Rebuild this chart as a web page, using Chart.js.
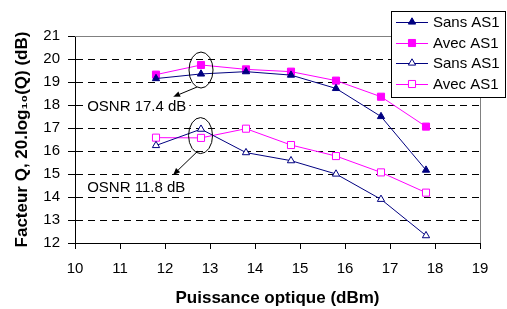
<!DOCTYPE html>
<html>
<head>
<meta charset="utf-8">
<script src="https://cdn.jsdelivr.net/npm/chart.js@4/dist/chart.umd.min.js"></script>
<style>
html,body{margin:0;padding:0;background:#fff;}
canvas{display:block;}
</style>
</head>
<body>
<canvas id="c" width="507" height="309"></canvas>
<script>
// ---- data ----
const puissance = [11.8, 12.8, 13.8, 14.8, 15.8, 16.8, 17.8];
const sansAS1_hautOSNR = [19.15, 19.35, 19.45, 19.30, 18.72, 17.50, 15.17];
const avecAS1_hautOSNR = [19.32, 19.74, 19.55, 19.45, 19.06, 18.36, 17.06];
const sansAS1_basOSNR = [16.24, 16.95, 15.93, 15.58, 15.00, 13.90, 12.32];
const avecAS1_basOSNR = [16.58, 16.57, 16.97, 16.26, 15.78, 15.07, 14.19];
const seriesNames = ['Sans AS1', 'Avec AS1', 'Sans AS1', 'Avec AS1'];
const xTickValues = [10, 11, 12, 13, 14, 15, 16, 17, 18, 19];
const yTickValues = [12, 13, 14, 15, 16, 17, 18, 19, 20, 21];
const xTitle = 'Puissance optique (dBm)';
const yTitle = 'Facteur Q, 20.log\u2081\u2080(Q) (dB)';
// annotations (data coordinates)
const osnrLabels = ['OSNR 17.4 dB', 'OSNR 11.8 dB'];
const ellipseCenters = [[12.8, 19.52], [12.79, 16.67]];
const arrowStarts = [[12.71, 18.78], [12.73, 16.0]];
const arrowEnds = [[12.18, 18.35], [12.18, 14.96]];
const labelPos = [[10.27, 17.97], [10.27, 14.43]];

const NAVY = '#000080', MAG = '#FF00FF';
const FONT = '"Liberation Sans", Arial, sans-serif';

function pts(arr){ return arr.map((v,i)=>({x: puissance[i], y: v})); }

const datasets = [
  {label: seriesNames[0], data: pts(sansAS1_hautOSNR), borderColor: NAVY, backgroundColor: NAVY, pointStyle: 'triangle', pointRadius: 4.2, pointBorderColor: NAVY, pointBackgroundColor: NAVY},
  {label: seriesNames[1], data: pts(avecAS1_hautOSNR), borderColor: MAG, backgroundColor: MAG, pointStyle: 'rect', pointRadius: 5, pointBorderColor: MAG, pointBackgroundColor: MAG},
  {label: seriesNames[2], data: pts(sansAS1_basOSNR), borderColor: NAVY, backgroundColor: '#fff', pointStyle: 'triangle', pointRadius: 4.2, pointBorderColor: NAVY, pointBackgroundColor: '#fff'},
  {label: seriesNames[3], data: pts(avecAS1_basOSNR), borderColor: MAG, backgroundColor: '#fff', pointStyle: 'rect', pointRadius: 5, pointBorderColor: MAG, pointBackgroundColor: '#fff'}
];
datasets.forEach(d => { d.borderWidth = 1; d.pointBorderWidth = 1; d.tension = 0; d.fill = false; d.pointHoverRadius = d.pointRadius; });

const framePlugin = {
  id: 'frame',
  beforeDatasetsDraw(chart){
    const {ctx, chartArea: a} = chart;
    ctx.save();
    ctx.strokeStyle = '#808080';
    ctx.lineWidth = 1;
    ctx.beginPath();
    ctx.moveTo(a.left, Math.round(a.top) + 0.5);
    ctx.lineTo(Math.round(a.right) + 0.5, Math.round(a.top) + 0.5);
    ctx.lineTo(Math.round(a.right) + 0.5, a.bottom);
    ctx.stroke();
    ctx.restore();
  }
};

const annotPlugin = {
  id: 'annot',
  afterDatasetsDraw(chart){
    const {ctx} = chart;
    const xs = chart.scales.x, ys = chart.scales.y;
    ctx.save();
    ctx.strokeStyle = '#000';
    ctx.fillStyle = '#000';
    ctx.lineWidth = 1;
    for (let i = 0; i < osnrLabels.length; i++) {
      const cx = xs.getPixelForValue(ellipseCenters[i][0]);
      const cy = ys.getPixelForValue(ellipseCenters[i][1]);
      ctx.beginPath();
      ctx.ellipse(cx, cy, 12, 18, 0, 0, Math.PI * 2);
      ctx.stroke();
      const x1 = xs.getPixelForValue(arrowStarts[i][0]), y1 = ys.getPixelForValue(arrowStarts[i][1]);
      const x2 = xs.getPixelForValue(arrowEnds[i][0]), y2 = ys.getPixelForValue(arrowEnds[i][1]);
      const ang = Math.atan2(y2 - y1, x2 - x1);
      const hl = 7, hw = 3;
      const bx = x2 - hl * Math.cos(ang), by = y2 - hl * Math.sin(ang);
      ctx.beginPath();
      ctx.moveTo(x1, y1);
      ctx.lineTo(bx, by);
      ctx.stroke();
      ctx.beginPath();
      ctx.moveTo(x2, y2);
      ctx.lineTo(bx + hw * Math.sin(ang), by - hw * Math.cos(ang));
      ctx.lineTo(bx - hw * Math.sin(ang), by + hw * Math.cos(ang));
      ctx.closePath();
      ctx.fill();
      const lx = xs.getPixelForValue(labelPos[i][0]), ly = ys.getPixelForValue(labelPos[i][1]);
      ctx.font = '15px ' + FONT;
      const w = ctx.measureText(osnrLabels[i]).width;
      ctx.fillStyle = '#fff';
      ctx.fillRect(lx - 3, ly - 9, w + 6, 18);
      ctx.fillStyle = '#000';
      ctx.textBaseline = 'middle';
      ctx.textAlign = 'left';
      ctx.fillText(osnrLabels[i], lx, ly + 1);
    }
    ctx.restore();
  },
  afterDraw(chart){
    const {ctx} = chart;
    ctx.save();
    const bx = 391.5, by = 11.5, bw = 114, bh = 86;
    ctx.fillStyle = '#fff';
    ctx.fillRect(bx, by, bw, bh);
    ctx.strokeStyle = '#000';
    ctx.lineWidth = 1;
    ctx.strokeRect(bx, by, bw, bh);
    const rows = [22, 43, 63, 84];
    chart.data.datasets.forEach((d, i) => {
      const y = rows[i];
      ctx.strokeStyle = d.borderColor;
      ctx.lineWidth = 1;
      ctx.beginPath();
      ctx.moveTo(396, y + 0.5);
      ctx.lineTo(428, y + 0.5);
      ctx.stroke();
      ctx.fillStyle = d.pointBackgroundColor;
      ctx.strokeStyle = d.pointBorderColor;
      ctx.beginPath();
      if (d.pointStyle === 'rect') {
        const s = Math.SQRT1_2 * d.pointRadius;
        ctx.rect(412 - s, y - s, 2 * s, 2 * s);
      } else {
        const r = d.pointRadius;
        ctx.moveTo(412, y - r);
        ctx.lineTo(412 + r * Math.cos(Math.PI / 6), y + r / 2);
        ctx.lineTo(412 - r * Math.cos(Math.PI / 6), y + r / 2);
        ctx.closePath();
      }
      ctx.fill();
      ctx.stroke();
      ctx.fillStyle = '#000';
      ctx.font = '15px ' + FONT;
      ctx.textBaseline = 'middle';
      ctx.textAlign = 'left';
      ctx.fillText(d.label, 433, y + 1);
    });
    ctx.restore();
  }
};

new Chart(document.getElementById('c'), {
  type: 'line',
  data: {datasets},
  options: {
    responsive: false,
    animation: false,
    events: [],
    layout: {padding: {top: 36, right: 27, left: 0, bottom: 0}},
    plugins: {legend: {display: false}, tooltip: {enabled: false}},
    scales: {
      x: {
        type: 'linear', min: 10, max: 19,
        afterBuildTicks: s => { s.ticks = xTickValues.map(v => ({value: v})); },
        afterFit: s => { s.height = 66; },
        ticks: {color: '#000', font: {size: 15, family: FONT}, padding: 11, maxRotation: 0, autoSkip: false},
        grid: {drawOnChartArea: false, drawTicks: true, tickLength: 6, tickColor: '#000', tickWidth: 1},
        border: {display: true, color: '#000', width: 1},
        title: {display: true, text: xTitle, color: '#000', font: {size: 17, weight: 'bold', family: FONT}, padding: {top: 0, bottom: 0}}
      },
      y: {
        type: 'linear', min: 12, max: 21,
        afterBuildTicks: s => { s.ticks = yTickValues.map(v => ({value: v})); },
        afterFit: s => { s.width = 75; },
        ticks: {color: '#000', font: {size: 15, family: FONT}, padding: 8, autoSkip: false},
        grid: {
          drawOnChartArea: true, drawTicks: true, tickLength: 7, tickColor: '#000', tickWidth: 1, lineWidth: 1,
          color: c => (c.tick && c.tick.value > 12 && c.tick.value < 21) ? '#000' : 'rgba(0,0,0,0)'
        },
        border: {display: true, color: '#000', width: 1, dash: [7, 5]},
        title: {display: true, text: yTitle, color: '#000', font: {size: 17, weight: 'bold', family: FONT}, padding: {top: 12, bottom: 0}}
      }
    }
  },
  plugins: [framePlugin, annotPlugin]
});
</script>
</body>
</html>
